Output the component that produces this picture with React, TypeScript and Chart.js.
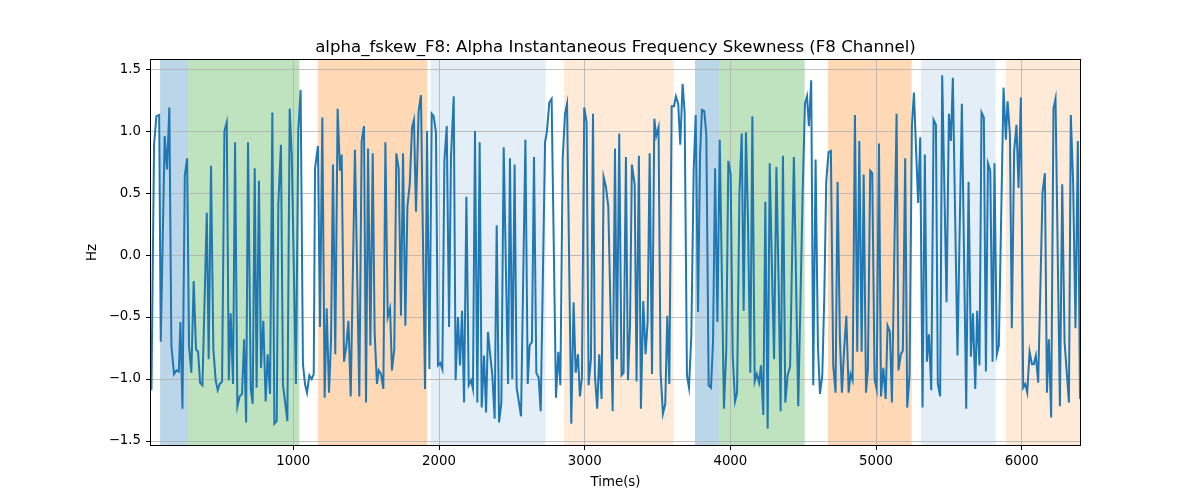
import React, { useEffect, useRef } from "react";
import { Chart, registerables } from "chart.js";

Chart.register(...registerables);

const TITLE = "alpha_fskew_F8: Alpha Instantaneous Frequency Skewness (F8 Channel)";
const X_LABEL = "Time(s)";
const Y_LABEL = "Hz";

const times = [
  26, 44, 60, 79, 90, 117, 133, 149, 163, 181, 198, 214, 225, 239, 255, 271, 284, 300, 316, 332,
  346, 360, 376, 406, 419, 435, 451, 467, 481, 495, 511, 527, 543, 557, 570, 586, 600, 616, 632, 648,
  662, 676, 689, 708, 721, 735, 748, 764, 778, 794, 810, 824, 840, 856, 870, 886, 897, 915, 929, 943,
  959, 975, 989, 1018, 1034, 1050, 1066, 1080, 1094, 1110, 1126, 1140, 1149, 1169, 1183, 1199, 1215, 1229, 1245, 1259,
  1272, 1288, 1304, 1320, 1332, 1348, 1364, 1378, 1394, 1423, 1453, 1469, 1485, 1499, 1513, 1529, 1545, 1558, 1574, 1586,
  1602, 1618, 1632, 1648, 1664, 1677, 1693, 1707, 1723, 1739, 1753, 1769, 1783, 1799, 1815, 1828, 1842, 1860, 1876, 1904,
  1918, 1934, 1950, 1963, 1979, 1993, 2009, 2023, 2037, 2053, 2069, 2082, 2101, 2114, 2130, 2144, 2158, 2172, 2188, 2204,
  2220, 2233, 2247, 2263, 2279, 2293, 2309, 2323, 2336, 2352, 2366, 2382, 2396, 2412, 2428, 2444, 2474, 2487, 2503, 2519,
  2533, 2549, 2563, 2593, 2609, 2622, 2638, 2652, 2668, 2684, 2698, 2728, 2741, 2757, 2773, 2803, 2819, 2833, 2849, 2865,
  2879, 2908, 2924, 2938, 2954, 2967, 2981, 2997, 3013, 3027, 3043, 3057, 3070, 3086, 3100, 3116, 3130, 3146, 3162, 3192,
  3208, 3221, 3237, 3253, 3267, 3283, 3297, 3311, 3324, 3343, 3356, 3372, 3386, 3402, 3418, 3432, 3446, 3462, 3478, 3491,
  3507, 3521, 3537, 3553, 3567, 3581, 3597, 3613, 3626, 3642, 3656, 3672, 3686, 3702, 3716, 3732, 3748, 3762, 3778, 3792,
  3805, 3821, 3835, 3851, 3867, 3881, 3895, 3911, 3927, 3956, 3972, 3986, 4002, 4016, 4032, 4046, 4062, 4078, 4091, 4107,
  4121, 4137, 4151, 4167, 4181, 4197, 4210, 4226, 4240, 4256, 4270, 4286, 4300, 4316, 4332, 4345, 4361, 4377, 4393, 4410,
  4436, 4466, 4482, 4496, 4512, 4526, 4539, 4555, 4569, 4585, 4601, 4615, 4631, 4645, 4658, 4674, 4690, 4706, 4722, 4736,
  4752, 4766, 4780, 4796, 4812, 4825, 4839, 4855, 4871, 4885, 4901, 4915, 4931, 4944, 4960, 4974, 4990, 5004, 5020, 5034,
  5050, 5066, 5079, 5095, 5109, 5141, 5154, 5170, 5184, 5200, 5214, 5230, 5246, 5260, 5276, 5289, 5303, 5319, 5335, 5349,
  5363, 5379, 5395, 5411, 5424, 5440, 5454, 5484, 5500, 5514, 5527, 5559, 5589, 5619, 5635, 5651, 5665, 5681, 5694, 5710,
  5724, 5740, 5754, 5768, 5784, 5800, 5813, 5829, 5843, 5875, 5891, 5903, 5919, 5932, 5948, 5964, 5978, 5994, 6010, 6024,
  6038, 6054, 6070, 6083, 6097, 6113, 6143, 6159, 6173, 6186, 6202, 6218, 6232, 6262, 6278, 6294, 6324, 6337, 6353, 6369,
  6385, 6400,
];

const values = [
  -1.09, 0.89, 1.12, 1.13, -0.70, 0.96, 0.69, 1.19, -0.73, -0.96, -0.93, -0.94, -0.54, -1.24, 0.64, 0.78, -0.73, -0.95, -0.21, -0.76,
  -0.78, -1.03, -1.05, 0.34, -0.84, 0.72, -0.76, -1.01, -1.09, -1.04, -1.02, 1.0, 1.07, -1.01, -0.47, -1.04, 0.91, -1.22, -1.14, -1.12,
  -0.68, -1.35, 0.91, -1.08, -1.20, 0.70, -1.07, 0.60, -0.91, -0.53, -1.18, -0.80, -1.12, 1.15, -1.36, -1.34, 0.41, 0.89, -1.05, -1.18,
  -1.34, 1.18, 0.81, -1.04, 1.0, 1.33, -0.88, -1.04, -1.11, -0.97, -1.0, -0.96, 0.70, 0.88, -0.58, 1.11, -1.15, -0.43, -1.11, -0.68,
  0.73, -0.80, 1.18, 0.68, 0.81, -0.86, -0.73, -0.53, -1.14, 0.85, -1.14, 0.92, 1.04, -1.19, 0.86, -0.73, 0.82, -0.62, -1.04, -0.93,
  -0.96, -1.08, 0.91, -0.50, -0.43, -0.93, -0.76, 0.82, 0.70, -0.49, 0.82, -0.57, 0.39, 0.57, 1.03, 1.09, 0.35, 1.16, 1.29, -1.08,
  1.0, -0.92, 1.14, 1.12, 0.99, -0.89, -0.87, -0.92, 0.76, 1.04, -0.58, 0.78, 1.28, -1.01, -0.50, -0.89, -0.45, -1.19, 0.47, -1.05,
  -1.01, -1.08, 1.0, -1.19, 0.91, -1.23, -0.81, -1.27, -0.62, -0.81, -0.97, -1.32, 0.24, -1.35, -1.19, 0.87, -1.04, 0.78, -1.0, 0.73,
  -1.07, -1.19, -1.30, 0.93, -1.04, -0.73, -0.70, 0.79, -0.95, -0.99, -1.26, 0.91, 1.0, 1.23, 1.26, -1.15, -0.78, -1.05, 0.78, 1.14,
  1.22, -1.36, -0.38, -0.95, -0.80, -1.14, -0.99, 1.19, 1.07, -1.05, -0.84, 1.14, -0.97, -1.24, -0.80, -1.16, 0.63, 0.55, 0.39, -1.26,
  0.86, -0.84, 0.98, -0.97, -0.95, 0.79, -1.01, -0.57, 0.73, 0.57, -1.02, 0.80, -1.24, -0.37, -0.80, -0.54, 0.82, -0.96, 1.10, 0.96,
  1.03, -0.95, -1.28, -1.20, -0.49, -1.04, 1.20, 1.20, 1.28, 1.22, 0.89, 1.38, 1.15, -0.97, -1.07, -0.65, 0.68, 1.13, -0.46, 0.81,
  1.17, 1.16, 0.97, -1.05, -1.07, -0.70, 0.70, -0.54, 0.93, -1.24, -0.76, 0.76, 0.65, -0.81, -1.18, -1.11, 0.49, 0.98, -0.45, 0.99,
  0.27, -0.95, 1.12, -1.02, -0.96, -1.03, -0.89, -1.29, 0.43, -1.40, 0.74, -0.14, -0.84, 0.71, -0.27, -1.26, 0.80, -1.19, -0.97, -0.90,
  0.79, -1.22, -0.32, 0.49, 1.22, 1.28, 1.04, 1.41, -1.05, 0.77, -0.73, -1.12, -0.97, -0.32, 0.59, 0.83, 0.84, -0.89, -1.11, 0.59,
  -0.68, -1.11, -0.78, -0.49, -1.11, -0.96, -1.01, 1.13, -0.78, 0.92, -0.78, 0.65, -1.11, -0.92, 0.68, 0.66, -1.0, -1.08, 0.90, -1.14,
  -0.91, -1.16, -0.57, -0.62, -1.19, 1.14, -0.93, -0.80, -0.77, 0.78, -1.23, -0.97, 1.04, 1.31, 0.81, 0.42, 0.95, -1.23, 0.81, -0.86,
  -0.64, -1.09, 1.09, 1.05, -1.04, -1.14, 1.45, -0.38, 1.14, 0.92, 1.43, -0.81, 1.22, -1.24, 0.59, -0.82, -0.47, -1.08, -0.45, -0.89,
  1.15, 1.11, -0.94, 0.74, 0.68, -0.86, 0.74, -0.80, -0.73, 1.35, 0.93, 1.24, 0.97, -0.59, 0.84, 1.05, 0.54, 1.27, -1.07, -1.04,
  -1.11, -0.78, -0.88, -0.88, -0.81, -1.03, 0.51, 0.66, -1.11, -0.68, -1.31, 1.18, 1.26, -1.22, 0.57, -0.70, -1.19, 1.13, 0.57, -0.59,
  0.92, -1.16,
];

const xMin = 23;
const xMax = 6400;
const yMin = -1.532;
const yMax = 1.573;
const xTicks = [1000, 2000, 3000, 4000, 5000, 6000];
const yTicks = [-1.5, -1.0, -0.5, 0.0, 0.5, 1.0, 1.5];

const spanStarts = [85, 277, 1170, 1943, 2858, 3757, 3924, 4670, 5308, 5890];
const spanEnds = [277, 1041, 1918, 2732, 3611, 3924, 4510, 5244, 5821, 6400];
const spanColors = [
  "rgba(31,119,180,0.3)",
  "rgba(44,160,44,0.3)",
  "rgba(255,127,14,0.3)",
  "rgba(31,119,180,0.12)",
  "rgba(255,127,14,0.16)",
  "rgba(31,119,180,0.3)",
  "rgba(44,160,44,0.3)",
  "rgba(255,127,14,0.3)",
  "rgba(31,119,180,0.12)",
  "rgba(255,127,14,0.16)",
];

const FONT = "'DejaVu Sans', sans-serif";

const spansPlugin = {
  id: "spans",
  beforeDraw(chart: any) {
    const { ctx, chartArea, scales } = chart;
    const xs = scales.x;
    ctx.save();
    ctx.beginPath();
    ctx.rect(chartArea.left, chartArea.top, chartArea.right - chartArea.left, chartArea.bottom - chartArea.top);
    ctx.clip();
    for (let i = 0; i < spanStarts.length; i++) {
      const a = xs.getPixelForValue(spanStarts[i]);
      const b = xs.getPixelForValue(spanEnds[i]);
      ctx.fillStyle = spanColors[i];
      ctx.fillRect(a, chartArea.top, b - a, chartArea.bottom - chartArea.top);
    }
    ctx.restore();
  },
  afterDraw(chart: any) {
    const { ctx, chartArea } = chart;
    ctx.save();
    ctx.strokeStyle = "#000";
    ctx.lineWidth = 1;
    ctx.strokeRect(
      chartArea.left - 0.5,
      chartArea.top - 0.5,
      chartArea.right - chartArea.left + 1,
      chartArea.bottom - chartArea.top + 1
    );
    ctx.fillStyle = "#000";
    ctx.font = `16.6px ${FONT}`;
    ctx.textAlign = "center";
    ctx.textBaseline = "alphabetic";
    ctx.fillText(TITLE, (chartArea.left + chartArea.right) / 2, 52);
    ctx.restore();
  },
};

const fmtY = (v: number) => {
  const s = Math.abs(v).toFixed(1);
  return v < 0 ? "\u2212" + s : s;
};

export default function App() {
  const canvasRef = useRef<HTMLCanvasElement | null>(null);

  useEffect(() => {
    const canvas = canvasRef.current;
    if (!canvas) return;
    Chart.defaults.font.family = FONT;
    const points = times.map((t, i) => ({ x: t, y: values[i] }));
    const chart = new Chart(canvas, {
      type: "line",
      data: {
        datasets: [
          {
            data: points,
            borderColor: "#1f77b4",
            borderWidth: 2,
            pointRadius: 0,
            tension: 0,
            fill: false,
          },
        ],
      },
      options: {
        animation: false,
        responsive: false,
        devicePixelRatio: 1,
        parsing: true,
        layout: { padding: { left: 0, right: 120, top: 60, bottom: 0 } },
        plugins: {
          legend: { display: false },
          tooltip: { enabled: false },
          title: { display: false },
        },
        scales: {
          x: {
            type: "linear",
            min: xMin,
            max: xMax,
            afterBuildTicks: (s: any) => {
              s.ticks = xTicks.map((v) => ({ value: v }));
            },
            afterFit: (s: any) => {
              s.height = 55;
            },
            grid: {
              color: "#b0b0b0",
              lineWidth: 0.8,
              drawTicks: true,
              tickLength: 5,
              tickColor: "#000",
              tickWidth: 1,
            },
            border: { display: false },
            ticks: {
              color: "#000",
              font: { size: 13.33, family: FONT },
              padding: 4,
              maxRotation: 0,
              autoSkip: false,
              callback: (v: any) => String(v),
            },
            title: {
              display: true,
              text: X_LABEL,
              color: "#000",
              font: { size: 13.33, family: FONT },
              padding: { top: 0, bottom: 9 },
            },
          },
          y: {
            type: "linear",
            min: yMin,
            max: yMax,
            afterBuildTicks: (s: any) => {
              s.ticks = yTicks.map((v) => ({ value: v }));
            },
            afterFit: (s: any) => {
              s.width = 151;
            },
            grid: {
              color: "#b0b0b0",
              lineWidth: 0.8,
              drawTicks: true,
              tickLength: 5,
              tickColor: "#000",
              tickWidth: 1,
            },
            border: { display: false },
            ticks: {
              color: "#000",
              font: { size: 13.33, family: FONT },
              padding: 5,
              autoSkip: false,
              callback: (v: any) => fmtY(Number(v)),
            },
            title: {
              display: true,
              text: Y_LABEL,
              color: "#000",
              font: { size: 13.33, family: FONT },
              padding: { top: 85, bottom: 0 },
            },
          },
        },
      },
      plugins: [spansPlugin],
    });
    return () => chart.destroy();
  }, []);

  return (
    <div style={{ position: "absolute", left: 0, top: 0, width: 1200, height: 500, background: "#fff" }}>
      <canvas ref={canvasRef} width={1200} height={500} style={{ display: "block" }} />
    </div>
  );
}
